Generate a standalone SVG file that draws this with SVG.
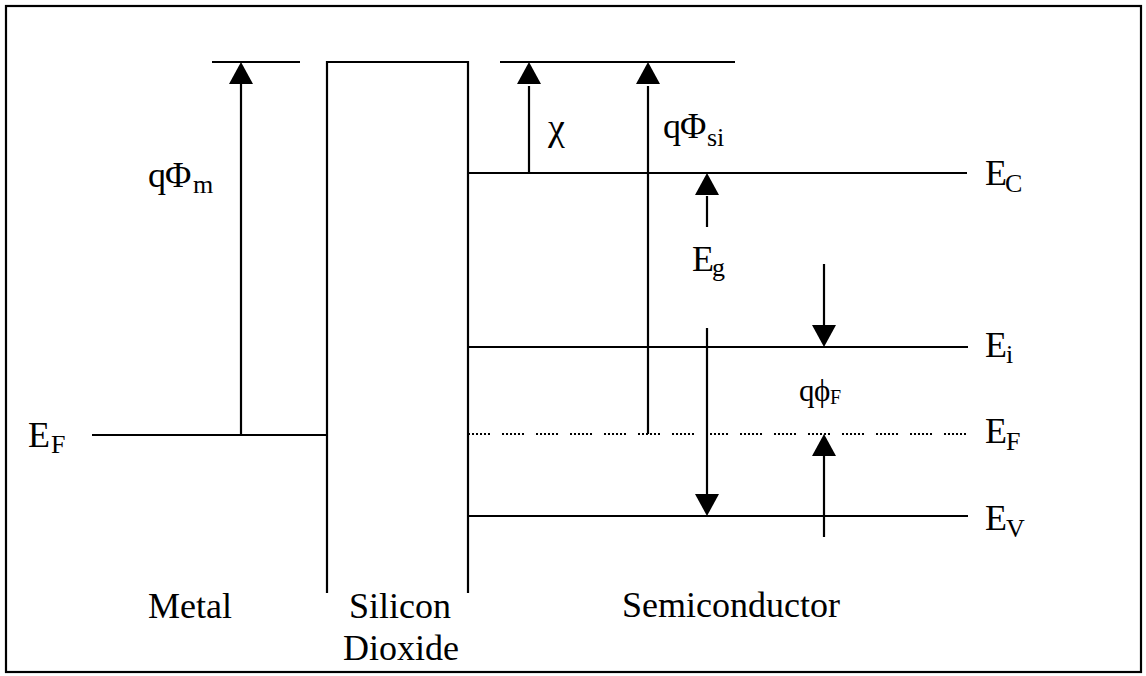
<svg xmlns="http://www.w3.org/2000/svg" xmlns:xlink="http://www.w3.org/1999/xlink" width="1146" height="676" viewBox="0 0 1146 676">
<style>
.ln{stroke:#000;stroke-width:2.2;fill:none}
.dot{stroke:#000;stroke-width:1.8;fill:none;stroke-dasharray:2 2 2 2 2 2 2 2 2 2 2 12}
.t{font-family:"Liberation Serif","Times New Roman",serif;font-size:36px;fill:#000}
.s{font-size:26px}
.ah{fill:#000}
</style>
<defs>
<path id="up" class="ah" d="M0,0 L12,22 L-12,22 Z"/>
<path id="down" class="ah" d="M0,0 L12,-22 L-12,-22 Z"/>
</defs>
<rect id="frame" x="6" y="6" width="1135" height="666" class="ln" stroke-width="2.5"/>
<g id="metal">
<line class="ln" x1="212" y1="62" x2="300" y2="62"/>
<line class="ln" x1="92" y1="435" x2="327" y2="435"/>
<text class="t" x="28" y="447">E<tspan class="s" x="51" y="453">F</tspan></text>
<text class="t" x="190" y="618" text-anchor="middle">Metal</text>
</g>
<g id="oxide">
<polyline class="ln" points="327,593 327,62 468,62 468,593"/>
<text class="t" x="400" y="618" text-anchor="middle">Silicon</text>
<text class="t" x="401" y="660" text-anchor="middle">Dioxide</text>
</g>
<g id="semiconductor">
<line class="ln" x1="500" y1="62" x2="735" y2="62"/>
<line class="ln" x1="468" y1="173" x2="967" y2="173"/>
<line class="ln" x1="468" y1="347" x2="968" y2="347"/>
<line class="dot" x1="468" y1="434" x2="968" y2="434"/>
<line class="ln" x1="468" y1="516" x2="968" y2="516"/>
<text class="t" x="985" y="185">E<tspan class="s" x="1005" y="192">C</tspan></text>
<text class="t" x="985" y="357">E<tspan class="s" x="1006" y="363">i</tspan></text>
<text class="t" x="985" y="443">E<tspan class="s" x="1006" y="450">F</tspan></text>
<text class="t" x="985" y="530">E<tspan class="s" x="1006" y="537">V</tspan></text>
<text class="t" x="731" y="617" text-anchor="middle">Semiconductor</text>
</g>
<g id="connectors">
<line class="ln" x1="241" y1="435" x2="241" y2="84"/>
<use xlink:href="#up" x="241" y="62"/>
<line class="ln" x1="529" y1="173" x2="529" y2="86"/>
<use xlink:href="#up" x="529" y="62"/>
<line class="ln" x1="648" y1="434" x2="648" y2="86"/>
<use xlink:href="#up" x="648" y="62"/>
<line class="ln" x1="707" y1="227" x2="707" y2="196"/>
<use xlink:href="#up" x="707" y="173"/>
<line class="ln" x1="707" y1="328" x2="707" y2="494"/>
<use xlink:href="#down" x="707" y="516"/>
<line class="ln" x1="824" y1="264" x2="824" y2="326"/>
<use xlink:href="#down" x="824" y="347"/>
<line class="ln" x1="824" y1="537" x2="824" y2="456"/>
<use xlink:href="#up" x="824" y="434"/>
</g>
<g id="labels">
<text class="t" x="148" y="187" font-size="34">q<tspan x="165">Φ</tspan><tspan class="s" x="193" y="193">m</tspan></text>
<text class="t" x="548" y="140" style="font-size:38px">χ</text>
<text class="t" x="663" y="138" font-size="34">q<tspan x="680">Φ</tspan><tspan class="s" x="707" y="146">si</tspan></text>
<text class="t" x="692" y="271">E<tspan class="s" x="712" y="276">g</tspan></text>
<text class="t" x="799" y="401" style="font-size:31px">q<tspan x="814">ϕ</tspan><tspan x="830" y="404" style="font-size:20px">F</tspan></text>
</g>
</svg>
